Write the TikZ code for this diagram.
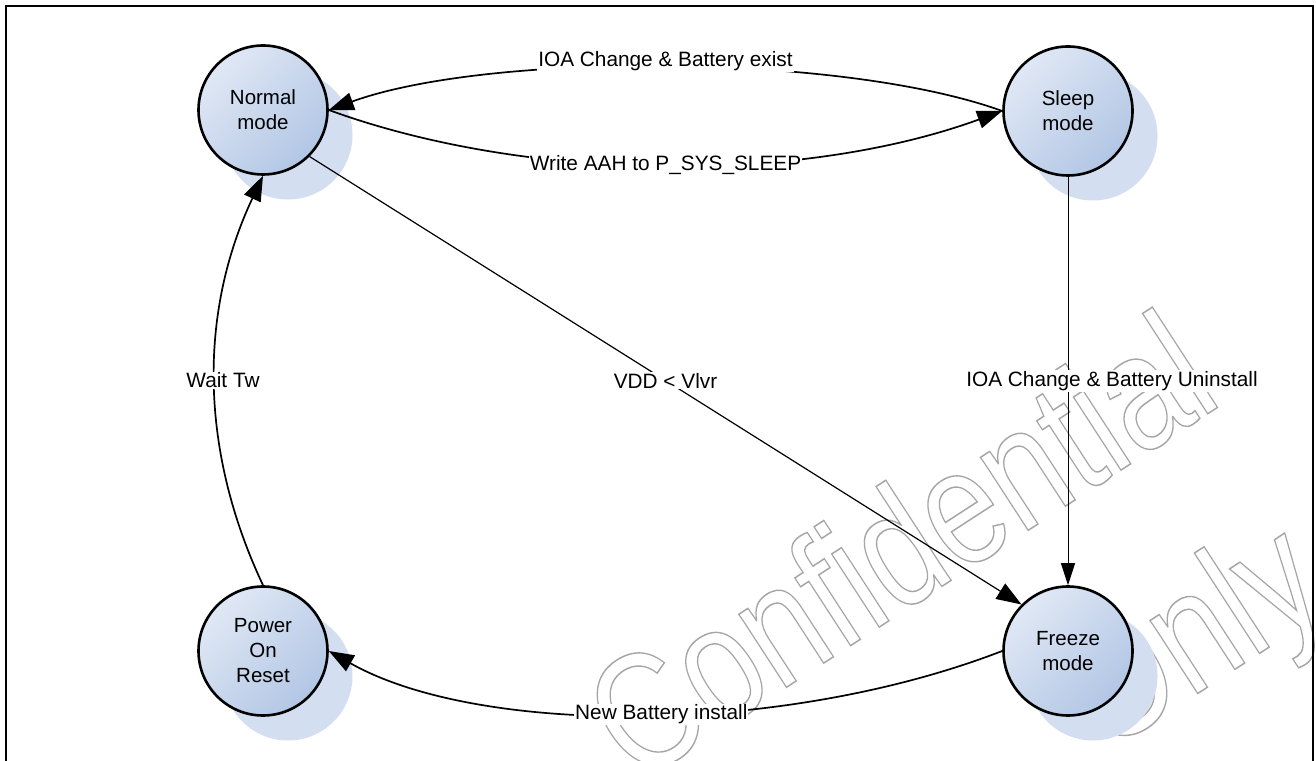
\documentclass[tikz,border=0pt]{standalone}
\usepackage{fontspec}
\setmainfont{Liberation Sans}
\usetikzlibrary{arrows.meta,shadows}
\definecolor{nodelight}{RGB}{224,232,245}
\definecolor{nodedark}{RGB}{178,198,228}
\definecolor{shadowc}{RGB}{212,222,241}
\definecolor{wmgray}{RGB}{165,165,165}
\tikzset{
  state/.style={circle, draw=black, line width=2.6pt, minimum size=129pt, inner sep=0pt,
    top color=nodelight, bottom color=nodedark, shading angle=45,
    general shadow={fill=shadowc, shadow xshift=25pt, shadow yshift=-25pt},
    align=center, font=\fontsize{20.5}{25}\selectfont},
  conn/.style={line width=1.7pt, -{Triangle[length=25pt,width=18pt]}},
  thinconn/.style={line width=1.2pt, -{Triangle[length=25pt,width=18pt]}},
  hairconn/.style={line width=0.9pt, -{Triangle[length=22pt,width=14pt]}},
  lab/.style={fill=white, inner sep=1pt, font=\fontsize{20.8}{25}\selectfont},
  wm/.style={text=wmgray, inner sep=0pt, font=\fontsize{100}{100}\selectfont}
}
\begin{document}
\begin{tikzpicture}[x=1pt,y=1pt]
\useasboundingbox (0,0) rectangle (1316,760);
\fill[white] (0,0) rectangle (1316,760);
% watermark
\begin{scope}
\clip (0,0) rectangle (1316,760);
\begin{scope}[shift={(636,-25)}, cm={1.115,0.724,-0.899,1.384,(0,0)}]
\node[wm, transform shape, anchor=base west] (wm1) at (0,0) {\special{pdf:code 1 Tr 0.9 w 0.65 G}Confidential};
\end{scope}
\begin{scope}[shift={(1103,5)}, cm={1.115,0.724,-0.899,1.384,(0,0)}]
\node[wm, transform shape, anchor=base west] (wm2) at (0,0) {\special{pdf:code 1 Tr 0.9 w 0.65 G}Only};
\end{scope}
\end{scope}
% border
\draw[line width=2pt] (6,-20) rectangle (1313,754);
% states
\node[state] (normal) at (263,650) {Normal\\mode};
\node[state] (sleep) at (1068,649) {Sleep\\mode};
\node[state] (power) at (263,109) {Power\\On\\Reset};
\node[state] (freeze) at (1068,109) {Freeze\\mode};
% transitions
\draw[conn] (sleep.west) .. controls +(-160,58) and +(160,58) .. node[lab, yshift=6pt] {IOA Change \& Battery exist} (normal.east);
\draw[conn] (normal.east) .. controls +(200,-73) and +(-200,-73) .. node[lab] {Write AAH to P\_SYS\_SLEEP} (sleep.west);
\draw[thinconn] (normal.-45) -- node[lab] {VDD < Vlvr} (freeze.135);
\draw[hairconn] (sleep.south) -- node[lab, xshift=44pt] {IOA Change \& Battery Uninstall} (freeze.north);
\draw[conn] (freeze.west) .. controls +(-220,-85) and +(150,-85) .. node[lab, pos=0.47] {New Battery install} (power.east);
\draw[conn] (power.north) .. controls +(-64,136) and +(-64,-136) .. node[lab, xshift=8pt] {Wait Tw} (normal.south);
\end{tikzpicture}
\end{document}
